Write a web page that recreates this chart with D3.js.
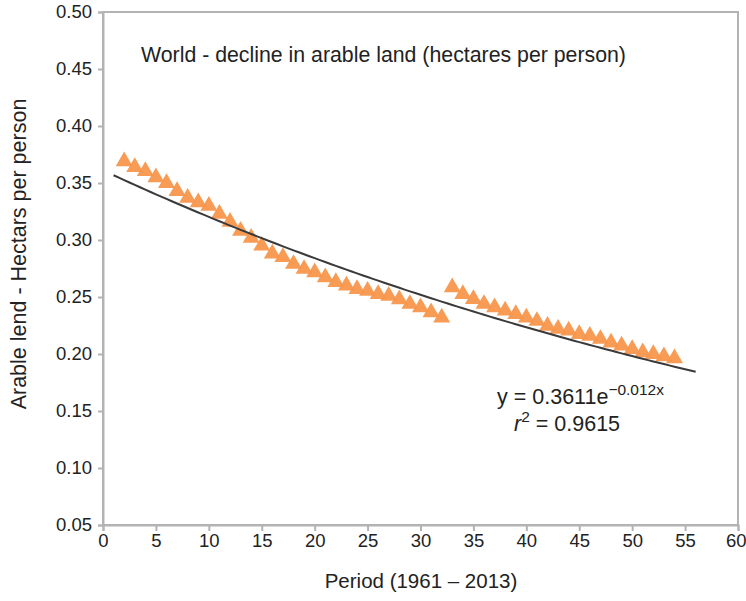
<!DOCTYPE html>
<html><head><meta charset="utf-8">
<script src="https://cdn.jsdelivr.net/npm/d3@7"></script>
<style>body{margin:0;background:#fff}svg{display:block}text{font-family:"Liberation Sans",Arial,sans-serif;fill:#222}</style>
</head><body>
<script>
const periods = d3.range(2, 55);
const arable = [0.369,0.364,0.3605,0.355,0.350,0.343,0.337,0.333,0.330,0.323,0.316,0.308,0.302,0.295,0.288,0.285,0.279,0.2746,0.2717,0.2673,0.263,0.260,0.257,0.2555,0.2526,0.251,0.248,0.2439,0.241,0.2366,0.232,
0.2585,0.2526,0.2482,0.2439,0.241,0.238,0.235,0.232,0.229,0.2248,0.222,0.2205,0.2175,0.216,0.2132,0.210,0.2073,0.2044,0.2015,0.200,0.198,0.1962];
const xTicks = d3.range(0, 61, 5);
const yTicks = [0.05,0.10,0.15,0.20,0.25,0.30,0.35,0.40,0.45,0.50];
const fitA = 0.3611, fitB = -0.012;
const fitRange = [1, 56];

const W = 746, H = 601;
const svg = d3.select("body").append("svg").attr("width", W).attr("height", H);
const x = d3.scaleLinear().domain([0, 60]).range([103, 738]);
const y = d3.scaleLinear().domain([0.05, 0.50]).range([525, 12]);
const grey = "#b3b3b3";

// frame
svg.append("rect").attr("x", x(0)).attr("y", y(0.5)).attr("width", x(60) - x(0)).attr("height", y(0.05) - y(0.5))
  .attr("fill", "none").attr("stroke", grey).attr("stroke-width", 2);

const xa = svg.append("g").attr("transform", `translate(0,${y(0.05)})`)
  .call(d3.axisBottom(x).tickValues(xTicks).tickSize(6).tickPadding(3).tickFormat(d3.format("d")));
const ya = svg.append("g").attr("transform", `translate(${x(0)},0)`)
  .call(d3.axisLeft(y).tickValues(yTicks).tickSize(5).tickPadding(6).tickFormat(d3.format(".2f")));
[xa, ya].forEach(g => {
  g.select(".domain").attr("stroke", grey).attr("stroke-width", 2);
  g.selectAll(".tick line").attr("stroke", grey).attr("stroke-width", 2);
  g.selectAll(".tick text").attr("font-size", 18.5).attr("fill", "#222").attr("font-family", "Liberation Sans, Arial, sans-serif");
});
xa.selectAll(".tick text").filter(d => d === 60).attr("text-anchor", "end").attr("dx", 8);

// markers
svg.append("g").selectAll("path").data(periods).join("path")
  .attr("d", d3.symbol().type(d3.symbolTriangle).size(125))
  .attr("transform", (d, i) => `translate(${x(d)},${y(arable[i])})`)
  .attr("fill", "#f7964c").attr("opacity", 0.95);

// trend line
const fx = d3.range(fitRange[0], fitRange[1] + 0.01, 0.5);
svg.append("path").datum(fx)
  .attr("d", d3.line().x(d => x(d)).y(d => y(fitA * Math.exp(fitB * d))))
  .attr("fill", "none").attr("stroke", "#3a3a3a").attr("stroke-width", 2);

// texts
svg.append("text").attr("x", 141).attr("y", 62).attr("font-size", 21.3)
  .text("World - decline in arable land (hectares per person)");
svg.append("text").attr("transform", "translate(26,254) rotate(-90)").attr("text-anchor", "middle").attr("font-size", 21.5)
  .text("Arable lend - Hectars per person");
svg.append("text").attr("x", 421).attr("y", 588).attr("text-anchor", "middle").attr("font-size", 20.5)
  .text("Period (1961 – 2013)");

const eq = svg.append("text").attr("x", 497).attr("y", 404).attr("font-size", 21.5);
eq.append("tspan").text("y = 0.3611e");
eq.append("tspan").attr("dy", -9).attr("font-size", 15.5).text("−0.012x");
const r2 = svg.append("text").attr("x", 514).attr("y", 431).attr("font-size", 21.5);
r2.append("tspan").attr("font-style", "italic").text("r");
r2.append("tspan").attr("dy", -9).attr("font-size", 15.5).text("2");
r2.append("tspan").attr("dy", 9).text(" = 0.9615");
</script>
</body></html>
